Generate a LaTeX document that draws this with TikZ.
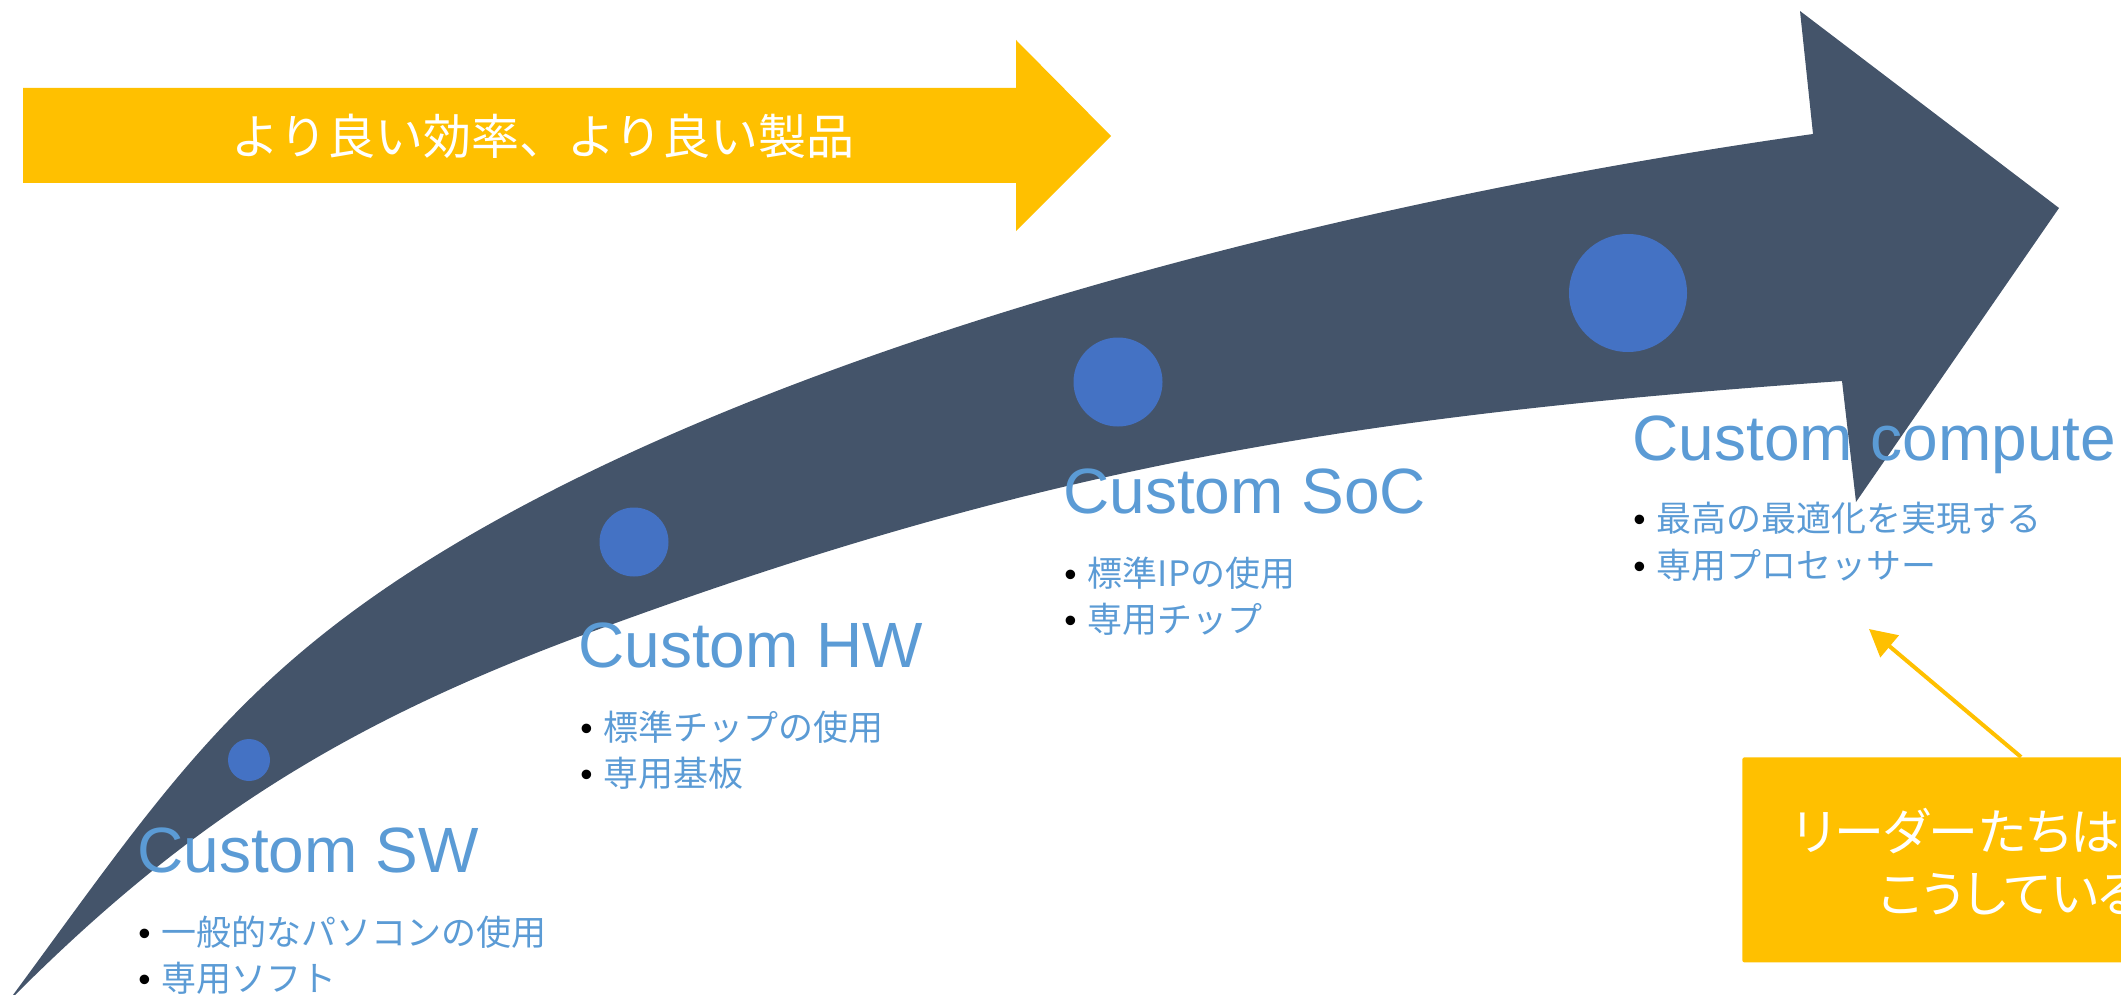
\documentclass[tikz,border=0pt]{standalone}
\usepackage{fontspec}
\setmainfont{Liberation Sans}
\newfontfamily\jp{Noto Sans CJK JP}
\newfontfamily\jpp{Noto Sans CJK JP}[RawFeature=+palt]
\usetikzlibrary{arrows.meta}
\definecolor{gold}{HTML}{FFC000}
\definecolor{slate}{HTML}{44546A}
\definecolor{dotblue}{HTML}{4472C4}
\definecolor{txtblue}{HTML}{5B9BD5}
\newcommand{\mybul}{\makebox[11.75pt][l]{\rmfamily\color{black}•}}
\begin{document}
\begin{tikzpicture}[x=0.5pt,y=-0.5pt,
  ttl/.style={anchor=base west, inner sep=0, text=txtblue, font=\fontsize{32pt}{38pt}\selectfont},
  item/.style={anchor=base west, inner sep=0, text=txtblue, font=\jp\fontsize{17.5pt}{21pt}\selectfont},
  milestone/.style={circle, fill=dotblue, inner sep=0, draw=none},
  wtext/.style={anchor=base west, inner sep=0, text=white, font=\jpp\fontsize{25pt}{30pt}\selectfont},
]
\useasboundingbox (0,0) rectangle (2121,995);
\clip (0,0) rectangle (2121,995);

% banner arrow
\fill[gold] (23,88) -- (1016,88) -- (1016,40) -- (1111,136) -- (1016,231) -- (1016,183) -- (23,183) -- cycle;
\node[font=\jp\fontsize{24pt}{28pt}\selectfont, text=white, anchor=base, inner sep=0] (banner) at (543,155) {より良い効率、より良い製品};

% big curved arrow
\fill[slate] (10,1000) -- (13,995)
  .. controls (161,794) and (236,675.5) .. (450,547)
  .. controls (793,341) and (1343,200.5) .. (1813,134)
  -- (1800,11) -- (2059,208) -- (1856,502) -- (1842,381)
  .. controls (1343,416) and (1033,468.4) .. (583,635)
  .. controls (349,722) and (192,818) .. (15,995) -- (12,1002) -- cycle;

% milestones
\node[milestone, minimum size=21pt] (m1) at (249,760) {};
\node[milestone, minimum size=34.5pt] (m2) at (634,542) {};
\node[milestone, minimum size=44.5pt] (m3) at (1118,382) {};
\node[milestone, minimum size=59pt] (m4) at (1628,293) {};

% labels
\node[ttl] (t1) at (137,872) {Custom SW};
\node[item] (t1a) at (138,945) {\mybul 一般的なパソコンの使用};
\node[item] (t1b) at (138,991) {\mybul 専用ソフト};

\node[ttl] (t2) at (578,667) {Custom HW};
\node[item] (t2a) at (580,740) {\mybul 標準チップの使用};
\node[item] (t2b) at (580,786) {\mybul 専用基板};

\node[ttl] (t3) at (1063,513) {Custom SoC};
\node[item] (t3a) at (1064,586) {\mybul 標準IPの使用};
\node[item] (t3b) at (1064,632) {\mybul 専用チップ};

\node[ttl] (t4) at (1632,460) {Custom compute};
\node[item] (t4a) at (1633,531) {\mybul 最高の最適化を実現する};
\node[item] (t4b) at (1633,578) {\mybul 専用プロセッサー};

% callout
\node[fill=gold, rounded corners=1pt, inner sep=0, anchor=north west, minimum width=290pt, minimum height=102.5pt] (callout) at (1742,757) {};
\node[wtext] (c1) at (1793,850) {リーダーたちは};
\node[wtext] (c2) at (1879,912) {こうしている};
\coordinate (cstart) at (2021,757);
\coordinate (ctip) at (1869,629);
\draw[gold, line width=2pt, -{Triangle[length=13.5pt,width=14pt]}] (cstart) -- (ctip);
\end{tikzpicture}
\end{document}
